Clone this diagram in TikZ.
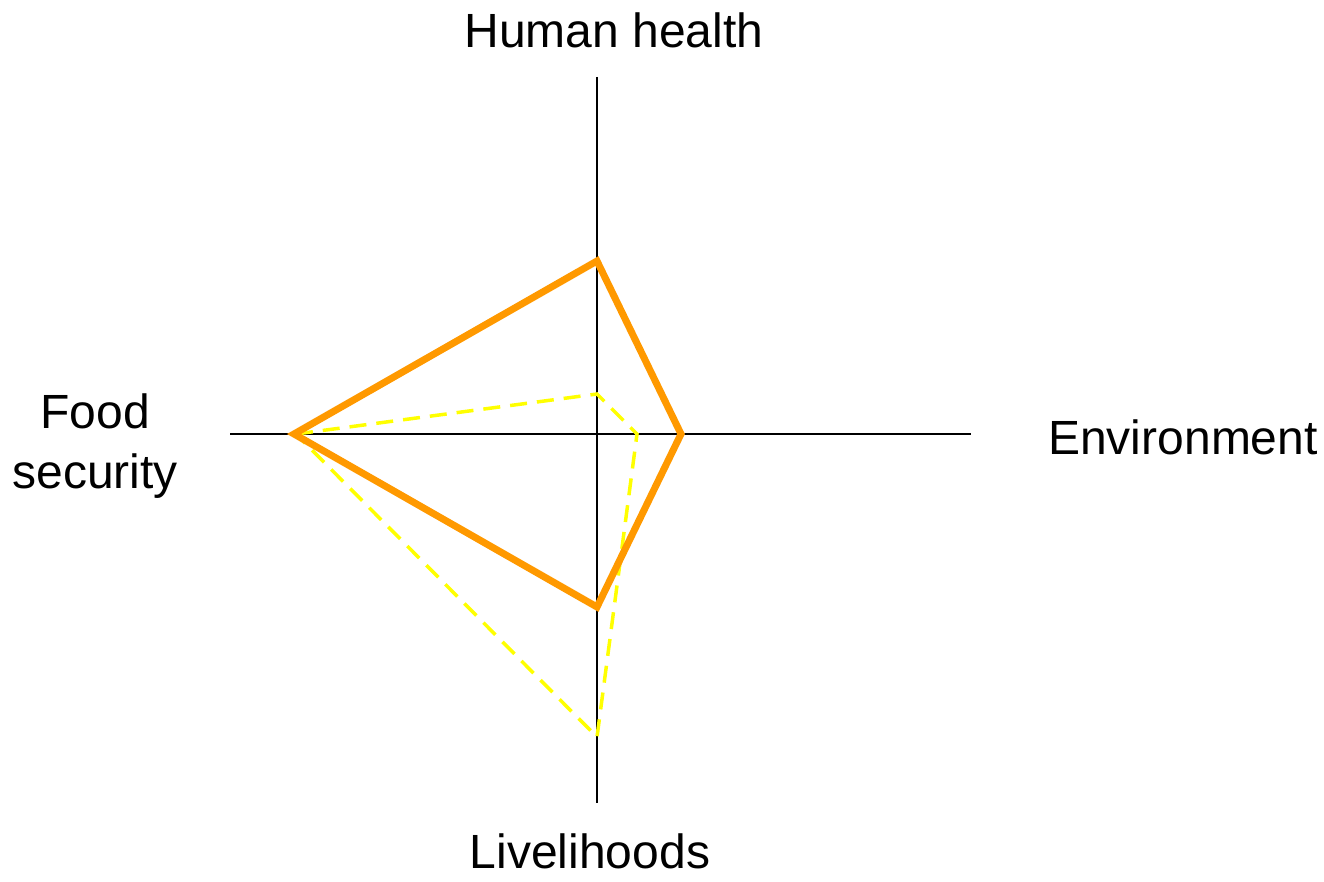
\documentclass[tikz,border=0pt]{standalone}
\usepackage{fontspec}
\setmainfont{Liberation Sans}
\definecolor{orng}{RGB}{255,153,0}
\definecolor{yel}{RGB}{255,255,0}
\begin{document}
\begin{tikzpicture}[x=1pt,y=-1pt,
  axis/.style={line width=2pt,black},
  lab/.style={font=\fontsize{48}{60}\selectfont,align=center,inner sep=0pt},
  solidpoly/.style={line width=7pt,orng,line join=miter},
  dashpoly/.style={line width=3.5pt,yel,dash pattern=on 17pt off 10pt}]
\useasboundingbox (0,0) rectangle (1324,882);
\coordinate (l) at (230,434);
\coordinate (r) at (971,434);
\coordinate (t) at (597,77);
\coordinate (b) at (597,803);
\draw[axis] (l) -- (r);
\draw[axis] (t) -- (b);
\coordinate (o1) at (597,261);
\coordinate (o2) at (681,434);
\coordinate (o3) at (597,607);
\coordinate (o4) at (294,434);
\coordinate (y1) at (597,394);
\coordinate (y2) at (637,434);
\coordinate (y3) at (597,737);
\coordinate (y4) at (296,434);
\draw[dashpoly] (y4) -- (y1) -- (y2) -- (y3) -- cycle;
\draw[solidpoly] (o1) -- (o2) -- (o3) -- (o4) -- cycle;
\node[lab] (hh) at (614,30) {Human health};
\node[lab] (env) at (1183,437) {Environment};
\node[lab] (fs) at (95,446) {Food\\security};
\node[lab,anchor=base] (lv) at (590,868) {Livelihoods};
\end{tikzpicture}
\end{document}
